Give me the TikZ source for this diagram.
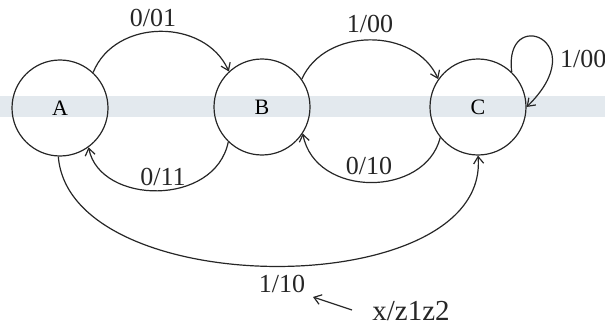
\documentclass[tikz,border=0pt]{standalone}
\usepackage{fontspec}
\setmainfont{Liberation Serif}
\usetikzlibrary{arrows.meta}
\begin{document}
\begin{tikzpicture}[x=1pt,y=-1pt,
  state/.style={draw=black!85, line width=1.2pt, circle, minimum size=96pt, inner sep=0pt, font=\fontsize{22}{24}\selectfont},
  lbl/.style={font=\fontsize{26}{28}\selectfont, text=black!85, inner sep=0pt},
  edge/.style={draw=black!85, line width=1.2pt, -{Straight Barb[length=7pt,width=10pt]}},
]
\useasboundingbox (0,0) rectangle (605,329);
\fill[color={rgb,255:red,227;green,233;blue,238}] (0,96) rectangle (605,117);

\node[state] (A) at (60,108) {A};
\node[state] (B) at (262,107) {B};
\node[state] (C) at (478,107) {C};

% A -> B top
\draw[edge] (A.47) .. controls (115,18) and (205,18) .. (B.133);
\node[lbl] (l1) at (153,18) {0/01};
% B -> A bottom
\draw[edge] (B.-134) .. controls (215,207) and (100,205) .. (A.-54);
\node[lbl] (l2) at (163,177) {0/11};
% B -> C top
\draw[edge] (B.35) .. controls (325,27) and (415,27) .. (C.145);
\node[lbl] (l3) at (370,24) {1/00};
% C -> B bottom
\draw[edge] (C.-141) .. controls (425,198) and (315,198) .. (B.-33);
\node[lbl] (l4) at (369,166) {0/10};
% C self loop
\draw[edge] (C.46) .. controls (503,5) and (595,40) .. (C.east);
\node[lbl,anchor=west] (l5) at (560,59) {1/00};
% A -> C bottom
\draw[edge] (A.-92) .. controls (70,303) and (490,303) .. (C.-90);
\node[lbl] (l6) at (282,284) {1/10};
% legend
\node[lbl, font=\fontsize{29}{31}\selectfont] (X) at (411,311) {x/z1z2};
\coordinate (xs) at (352,310);
\coordinate (xt) at (313,297);
\draw[edge] (xs) -- (xt);
\end{tikzpicture}
\end{document}
